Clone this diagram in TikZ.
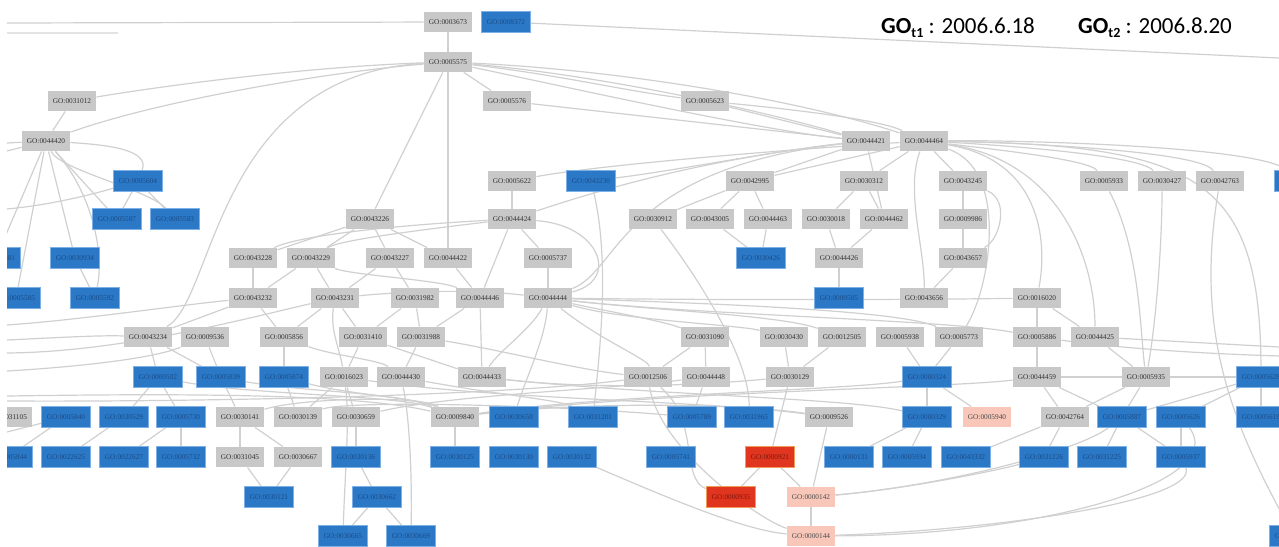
\documentclass[tikz,border=0pt]{standalone}
\usepackage{fontspec}
\usetikzlibrary{backgrounds}
\newfontfamily\nodefont{Liberation Serif}
\newfontfamily\titlefont{Carlito}
\definecolor{ngray}{HTML}{C8C8C8}
\definecolor{nblue}{HTML}{2A78C6}
\definecolor{nblueedge}{HTML}{7DB0E6}
\definecolor{nbluetext}{HTML}{1C4C88}
\definecolor{nred}{HTML}{E0351F}
\definecolor{nrededge}{HTML}{F29A5A}
\definecolor{nredtext}{HTML}{7A1A0E}
\definecolor{npink}{HTML}{F8C7B9}
\definecolor{egray}{HTML}{D0D0D0}
\tikzset{
 gonode/.style={minimum width=48.5pt, minimum height=20.5pt, inner sep=0pt, font=\nodefont\fontsize{7.3}{8}\selectfont},
 gn/.style={gonode, fill=ngray, text=black!80},
 bn/.style={gonode, fill=nblue, draw=nblueedge, line width=0.6pt, text=nbluetext},
 rn/.style={gonode, fill=nred, draw=nrededge, line width=0.6pt, text=nredtext},
 pn/.style={gonode, fill=npink, text=black!70},
 link/.style={draw=egray, line width=1.2pt},
 ttl/.style={anchor=base west, inner sep=0pt, font=\titlefont\fontsize{23}{23}\selectfont},
}
\newcommand{\tsub}[1]{\raisebox{-4pt}{\fontsize{14}{14}\selectfont\textbf{#1}}}
\begin{document}
\begin{tikzpicture}[x=1pt,y=-1pt]
\useasboundingbox (0,0) rectangle (1279,546);
\begin{scope}
\clip (7,0) rectangle (1279,546);
% Row A
\node[gn] (t0) at (448,22) {GO:0003673};
\node[bn] (u0) at (506,22) {GO:0008372};
% Row B
\node[gn] (cc) at (448,62) {GO:0005575};
% Row C
\node[gn] (a1) at (72,101) {GO:0031012};
\node[gn] (a2) at (507,101) {GO:0005576};
\node[gn] (a3) at (705,101) {GO:0005623};
% Row D
\node[gn] (d1) at (46,141) {GO:0044420};
\node[gn] (d2) at (866,141) {GO:0044421};
\node[gn] (d3) at (924,141) {GO:0044464};
% Row E
\node[bn] (e1) at (138,181) {GO:0005604};
\node[gn] (e2) at (512,181) {GO:0005622};
\node[bn] (e3) at (591,181) {GO:0043230};
\node[gn] (e4) at (750,181) {GO:0042995};
\node[gn] (e5) at (864,181) {GO:0030312};
\node[gn] (e6) at (963,181) {GO:0043245};
\node[gn] (e7) at (1104,181) {GO:0005933};
\node[gn] (e8) at (1162,181) {GO:0030427};
\node[gn] (e9) at (1220,181) {GO:0042763};
\node[bn] (e10) at (1299,181) {GO:0005619};
% Row F
\node[bn] (f1) at (117,219) {GO:0005587};
\node[bn] (f2) at (175,219) {GO:0005583};
\node[gn] (f3) at (370,219) {GO:0043226};
\node[gn] (f4) at (512,219) {GO:0044424};
\node[gn] (f5) at (653,219) {GO:0030912};
\node[gn] (f6) at (710,219) {GO:0043005};
\node[gn] (f7) at (768,219) {GO:0044463};
\node[gn] (f8) at (826,219) {GO:0030018};
\node[gn] (f9) at (884,219) {GO:0044462};
\node[gn] (f10) at (963,219) {GO:0009986};
% Row G
\node[bn] (g0) at (-4,258) {GO:0005581};
\node[bn] (g1) at (75,258) {GO:0030934};
\node[gn] (g2) at (253,258) {GO:0043228};
\node[gn] (g3) at (311,258) {GO:0043229};
\node[gn] (g4) at (390,258) {GO:0043227};
\node[gn] (g5) at (448,258) {GO:0044422};
\node[gn] (g6) at (548,258) {GO:0005737};
\node[bn] (g7) at (761,258) {GO:0030426};
\node[gn] (g8) at (839,258) {GO:0044426};
\node[gn] (g9) at (963,258) {GO:0043657};
% Row H
\node[bn] (h0) at (16,298) {GO:0005585};
\node[bn] (h1) at (95,298) {GO:0005592};
\node[gn] (h2) at (253,298) {GO:0043232};
\node[gn] (h3) at (335,298) {GO:0043231};
\node[gn] (h4) at (415,298) {GO:0031982};
\node[gn] (h5) at (480,298) {GO:0044446};
\node[gn] (h6) at (548,298) {GO:0044444};
\node[bn] (h7) at (839,298) {GO:0009505};
\node[gn] (h8) at (924,298) {GO:0043656};
\node[gn] (h9) at (1037,298) {GO:0016020};
% Row I
\node[gn] (i1) at (148,337) {GO:0043234};
\node[gn] (i2) at (205,337) {GO:0009536};
\node[gn] (i3) at (284,337) {GO:0005856};
\node[gn] (i4) at (363,337) {GO:0031410};
\node[gn] (i5) at (421,337) {GO:0031988};
\node[gn] (i6) at (705,337) {GO:0031090};
\node[gn] (i7) at (784,337) {GO:0030430};
\node[gn] (i8) at (842,337) {GO:0012505};
\node[gn] (i9) at (900,337) {GO:0005938};
\node[gn] (i10) at (959,337) {GO:0005773};
\node[gn] (i11) at (1037,337) {GO:0005886};
\node[gn] (i12) at (1095,337) {GO:0044425};
% Row J
\node[bn] (j1) at (158,377) {GO:0000502};
\node[bn] (j2) at (221,377) {GO:0005839};
\node[bn] (j3) at (284,377) {GO:0005874};
\node[gn] (j4) at (344,377) {GO:0016023};
\node[gn] (j5) at (401,377) {GO:0044430};
\node[gn] (j6) at (482,377) {GO:0044433};
\node[gn] (j7) at (648,377) {GO:0012506};
\node[gn] (j8) at (706,377) {GO:0044448};
\node[gn] (j9) at (790,377) {GO:0030129};
\node[bn] (j10) at (927,377) {GO:0000324};
\node[gn] (j11) at (1037,377) {GO:0044459};
\node[gn] (j12) at (1146,377) {GO:0005935};
\node[bn] (j13) at (1261,377) {GO:0005628};
% Row K
\node[gn] (k0) at (8,417) {GO:0031105};
\node[bn] (k1) at (66,417) {GO:0005840};
\node[bn] (k2) at (124,417) {GO:0030529};
\node[bn] (k3) at (181,417) {GO:0005730};
\node[gn] (k4) at (240,417) {GO:0030141};
\node[gn] (k5) at (298,417) {GO:0030139};
\node[gn] (k6) at (356,417) {GO:0030659};
\node[gn] (k7) at (455,417) {GO:0009840};
\node[bn] (k8) at (514,417) {GO:0030658};
\node[bn] (k9) at (593,417) {GO:0031201};
\node[bn] (k10) at (692,417) {GO:0005789};
\node[bn] (k11) at (749,417) {GO:0031965};
\node[gn] (k12) at (829,417) {GO:0009526};
\node[bn] (k13) at (927,417) {GO:0000329};
\node[pn] (k14) at (987,417) {GO:0005940};
\node[gn] (k15) at (1065,417) {GO:0042764};
\node[bn] (k16) at (1122,417) {GO:0005887};
\node[bn] (k17) at (1181,417) {GO:0005626};
\node[bn] (k18) at (1261,417) {GO:0005619};
% Row L
\node[bn] (l0) at (8,457) {GO:0005844};
\node[bn] (l1) at (66,457) {GO:0022625};
\node[bn] (l2) at (124,457) {GO:0022627};
\node[bn] (l3) at (181,457) {GO:0005732};
\node[gn] (l4) at (240,457) {GO:0031045};
\node[gn] (l5) at (298,457) {GO:0030667};
\node[bn] (l6) at (356,457) {GO:0030136};
\node[bn] (l7) at (455,457) {GO:0030125};
\node[bn] (l8) at (514,457) {GO:0030130};
\node[bn] (l9) at (572,457) {GO:0030132};
\node[bn] (l10) at (671,457) {GO:0005741};
\node[rn] (l11) at (770,457) {GO:0000921};
\node[bn] (l12) at (849,457) {GO:0000131};
\node[bn] (l13) at (907,457) {GO:0005934};
\node[bn] (l14) at (966,457) {GO:0043332};
\node[bn] (l15) at (1044,457) {GO:0031226};
\node[bn] (l16) at (1102,457) {GO:0031225};
\node[bn] (l17) at (1181,457) {GO:0005937};
% Row M
\node[bn] (m1) at (269,497) {GO:0030121};
\node[bn] (m2) at (377,497) {GO:0030662};
\node[rn] (m3) at (731,497) {GO:0000935};
\node[pn] (m4) at (811,497) {GO:0000142};
% Row N
\node[bn] (n1) at (343,536) {GO:0030665};
\node[bn] (n2) at (411,536) {GO:0030669};
\node[pn] (n3) at (811,536) {GO:0000144};
\node[bn] (n4) at (1294,536) {GO:0005618};
\end{scope}

% Title
\node[ttl] (tl1) at (881,33) {\textbf{GO}\tsub{t1} : 2006.6.18};
\node[ttl] (tl2) at (1078,33) {\textbf{GO}\tsub{t2} : 2006.8.20};

\begin{pgfonlayer}{background}
\begin{scope}
\clip (7,0) rectangle (1279,546);
\coordinate (L0) at (7,23);
\coordinate (L0b) at (7,33);
\coordinate (T0b) at (118,33);
\coordinate (R0) at (1279,58);
\coordinate (L1) at (7,143);
\coordinate (L2) at (7,151);
\coordinate (L3) at (7,209);
\coordinate (L4) at (7,325);
\coordinate (L5) at (7,340);
\coordinate (L6) at (7,353);
\coordinate (L7) at (7,396);
\coordinate (L8) at (7,401);
\coordinate (L9) at (7,432);
\coordinate (L10) at (7,371);
\coordinate (R1) at (1279,347);
\coordinate (R2) at (1279,356);
% top
\draw[link] (L0) -- (t0);
\draw[link, draw=egray!60] (L0b) -- (T0b);
\draw[link] (u0) -- (R0);
\draw[link] (t0) -- (cc);
\draw[link] (cc) .. controls (330,66) and (200,80) .. (a1);
\draw[link] (cc) .. controls (330,72) and (160,100) .. (d1);
\draw[link] (cc) .. controls (215,75) and (215,300) .. (i1);
\draw[link] (cc) -- (a2);
\draw[link] (cc) .. controls (560,75) and (620,90) .. (a3);
\draw[link] (cc) .. controls (600,75) and (760,110) .. (d2);
\draw[link] (cc) .. controls (620,70) and (800,100) .. (d3);
\draw[link] (cc) .. controls (580,90) and (760,130) .. (d2);
\draw[link] (cc) -- (f3);
\draw[link] (cc) -- (g5);
\draw[link] (a1) -- (d1);
\draw[link] (a2) -- (d2);
\draw[link] (a3) -- (d2);
\draw[link] (a3) .. controls (800,110) and (880,120) .. (d3);
% left cluster
\draw[link] (L1) -- (d1);
\draw[link] (L2) -- (d1);
\draw[link] (d1) .. controls (110,145) and (150,150) .. (e1);
\draw[link] (d1) -- (g0);
\draw[link] (d1) -- (h0);
\draw[link] (d1) -- (g1);
\draw[link] (d1) .. controls (90,190) and (105,250) .. (h1);
\draw[link] (d1) -- (f1);
\draw[link] (d1) .. controls (60,170) and (150,190) .. (f2);
\draw[link] (e1) -- (f1);
\draw[link] (e1) -- (f2);
\draw[link] (L3) .. controls (50,205) and (90,195) .. (e1);
\draw[link] (g1) -- (h1);
\draw[link] (L4) .. controls (80,320) and (180,305) .. (h2);
\draw[link] (L5) .. controls (50,338) and (100,335) .. (i1);
\draw[link] (L6) .. controls (120,352) and (240,320) .. (h3);
\draw[link] (L10) .. controls (60,368) and (150,360) .. (i2);
% middle upper
\draw[link] (e2) -- (f4);
\draw[link] (e2) .. controls (600,165) and (780,150) .. (d3);
\draw[link] (e3) .. controls (680,170) and (780,150) .. (d2);
\draw[link] (e3) .. controls (610,260) and (600,350) .. (k9);
\draw[link] (d2) .. controls (700,160) and (600,190) .. (f4);
\draw[link] (f3) -- (g2);
\draw[link] (f3) -- (g3);
\draw[link] (f3) -- (g4);
\draw[link] (f3) -- (g5);
\draw[link] (f4) .. controls (420,230) and (340,240) .. (g3);
\draw[link] (f4) .. controls (400,225) and (300,235) .. (g2);
\draw[link] (f4) -- (g6);
\draw[link] (f4) -- (h5);
\draw[link] (f4) .. controls (600,225) and (620,280) .. (h6);
\draw[link] (d2) .. controls (620,170) and (620,270) .. (h6);
\draw[link] (g2) -- (h2);
\draw[link] (g3) -- (h2);
\draw[link] (g3) -- (h3);
\draw[link] (g4) -- (h3);
\draw[link] (g4) -- (h4);
\draw[link] (g5) -- (h5);
\draw[link] (g3) .. controls (350,275) and (440,280) .. (h5);
\draw[link] (g6) -- (h6);
\draw[link] (h3) .. controls (420,290) and (480,290) .. (h6);
\draw[link] (h2) -- (i3);
\draw[link] (h2) -- (i1);
\draw[link] (h3) -- (i4);
\draw[link] (h3) -- (i3);
\draw[link] (h3) .. controls (330,330) and (340,350) .. (j4);
\draw[link] (h4) -- (i4);
\draw[link] (h4) -- (i5);
\draw[link] (h5) -- (j6);
\draw[link] (h5) -- (i5);
\draw[link] (h6) .. controls (530,330) and (500,350) .. (j6);
\draw[link] (h6) .. controls (545,340) and (525,380) .. (k8);
\draw[link] (h6) .. controls (600,310) and (660,320) .. (i6);
\draw[link] (h6) .. controls (620,320) and (740,325) .. (i7);
\draw[link] (h6) .. controls (650,310) and (780,315) .. (i8);
\draw[link] (h6) .. controls (700,303) and (900,310) .. (i10);
\draw[link] (h6) .. controls (700,300) and (900,300) .. (h9);
\draw[link] (h6) .. controls (700,315) and (950,320) .. (i11);
\draw[link] (h6) .. controls (600,340) and (650,360) .. (j7);
% I-J left
\draw[link] (i1) -- (j1);
\draw[link] (i1) -- (j2);
\draw[link] (i2) -- (j2);
\draw[link] (i3) -- (j3);
\draw[link] (i3) .. controls (330,355) and (380,360) .. (j5);
\draw[link] (i4) -- (j4);
\draw[link] (i5) -- (j5);
\draw[link] (i4) -- (j6);
\draw[link] (i5) .. controls (500,350) and (580,370) .. (j7);
% J-K-L-M-N left
\draw[link] (j1) -- (k2);
\draw[link] (j1) -- (k3);
\draw[link] (j2) -- (k4);
\draw[link] (j3) -- (k5);
\draw[link] (j4) -- (k6);
\draw[link] (j4) -- (k5);
\draw[link] (L9) -- (k1);
\draw[link] (k1) -- (l0);
\draw[link] (k2) -- (l1);
\draw[link] (k3) -- (l3);
\draw[link] (k3) -- (l2);
\draw[link] (k4) -- (l4);
\draw[link] (k4) -- (l5);
\draw[link] (l4) -- (m1);
\draw[link] (l5) -- (m1);
\draw[link] (k6) -- (l6);
\draw[link] (l6) -- (m2);
\draw[link] (m2) -- (n1);
\draw[link] (m2) -- (n2);
\draw[link] (j5) .. controls (410,420) and (412,480) .. (n2);
\draw[link] (n1) .. controls (345,470) and (350,420) .. (j4);
\draw[link] (k7) -- (l7);
% band
\draw[link] (L7) .. controls (150,394) and (350,392) .. (k7);
\draw[link] (L8) .. controls (200,402) and (500,396) .. (j7);
\draw[link] (j1) .. controls (250,395) and (400,395) .. (k7);
\draw[link] (j2) .. controls (300,392) and (400,392) .. (k7);
\draw[link] (j3) .. controls (350,395) and (420,398) .. (k7);
\draw[link] (k4) .. controls (300,398) and (420,395) .. (k7);
\draw[link] (k7) .. controls (600,395) and (850,390) .. (j10);
\draw[link] (k7) .. controls (650,392) and (950,388) .. (j11);
\draw[link] (k7) .. controls (600,400) and (750,405) .. (k12);
\draw[link] (j6) .. controls (650,395) and (850,398) .. (k13);
\draw[link] (j6) .. controls (600,390) and (700,385) .. (j9);
\draw[link] (j5) .. controls (500,395) and (560,400) .. (k9);
\draw[link] (k6) .. controls (450,395) and (600,390) .. (j8);
\draw[link] (k5) .. controls (350,400) and (550,405) .. (k10);
\draw[link] (j4) .. controls (500,400) and (700,400) .. (k12);
% I-J-K right
\draw[link] (i6) -- (j7);
\draw[link] (i6) -- (j8);
\draw[link] (i7) -- (j9);
\draw[link] (i8) -- (j9);
\draw[link] (i9) -- (j10);
\draw[link] (i10) -- (j10);
\draw[link] (h9) -- (i11);
\draw[link] (i11) -- (j11);
\draw[link] (h9) -- (i12);
\draw[link] (i12) -- (j12);
\draw[link] (i12) -- (R1);
\draw[link] (i11) .. controls (1150,352) and (1250,355) .. (R2);
\draw[link] (j11) -- (j12);
\draw[link] (j12) -- (j13);
\draw[link] (j8) -- (k10);
\draw[link] (f5) .. controls (700,280) and (750,360) .. (k11);
\draw[link] (j9) -- (l11);
\draw[link] (l11) -- (m3);
\draw[link] (l11) -- (m4);
\draw[link] (m4) -- (n3);
\draw[link] (k12) -- (m4);
\draw[link] (j10) -- (k13);
\draw[link] (k13) -- (l13);
\draw[link] (k13) -- (l12);
\draw[link] (j10) -- (k14);
\draw[link] (j11) -- (k15);
\draw[link] (j12) -- (k15);
\draw[link] (j11) -- (k16);
\draw[link] (j12) -- (k16);
\draw[link] (k15) -- (l15);
\draw[link] (k16) -- (l16);
\draw[link] (k16) -- (l17);
\draw[link] (k17) -- (l17);
\draw[link] (j13) -- (k16);
\draw[link] (j13) -- (k17);
\draw[link] (j13) -- (k18);
\draw[link] (l14) -- (k15);
\draw[link] (j7) .. controls (700,420) and (680,480) .. (m3);
\draw[link] (j7) .. controls (660,450) and (760,520) .. (n3);
\draw[link] (l9) .. controls (650,490) and (740,530) .. (n3);
\draw[link] (m4) .. controls (900,490) and (1000,470) .. (l15);
\draw[link] (m4) .. controls (950,485) and (1080,450) .. (k16);
\draw[link] (n3) .. controls (1000,530) and (1200,500) .. (l17);
\draw[link] (n3) .. controls (1050,535) and (1230,480) .. (k17);
% upper right
\draw[link] (d3) -- (e4);
\draw[link] (d2) -- (e4);
\draw[link] (d3) -- (e5);
\draw[link] (d2) -- (f9);
\draw[link] (d3) -- (e6);
\draw[link] (d3) .. controls (1000,150) and (1090,160) .. (e7);
\draw[link] (d3) .. controls (1000,145) and (1140,155) .. (e8);
\draw[link] (d3) .. controls (1000,142) and (1200,150) .. (e9);
\draw[link] (d3) .. controls (1000,140) and (1260,145) .. (e10);
\draw[link] (d3) .. controls (1200,145) and (1260,180) .. (j13);
\draw[link] (d3) .. controls (1010,170) and (990,290) .. (i10);
\draw[link] (d3) .. controls (1040,160) and (1048,240) .. (h9);
\draw[link] (d3) .. controls (1060,160) and (1095,260) .. (i12);
\draw[link] (d3) .. controls (905,190) and (925,250) .. (h8);
\draw[link] (e4) -- (f5);
\draw[link] (e4) -- (f6);
\draw[link] (e4) -- (f7);
\draw[link] (e5) -- (f8);
\draw[link] (e5) -- (f9);
\draw[link] (f6) -- (g7);
\draw[link] (f7) -- (g7);
\draw[link] (f8) -- (g8);
\draw[link] (f9) -- (g8);
\draw[link] (g8) -- (h7);
\draw[link] (e6) -- (f10);
\draw[link] (f10) -- (g9);
\draw[link] (g9) -- (h8);
\draw[link] (e6) .. controls (1010,200) and (1000,240) .. (g9);
\draw[link] (e7) .. controls (1140,250) and (1140,330) .. (j12);
\draw[link] (e8) .. controls (1162,250) and (1155,330) .. (j12);
\draw[link] (e9) .. controls (1195,330) and (1230,420) .. (n4);
\end{scope}
\end{pgfonlayer}
\end{tikzpicture}
\end{document}
